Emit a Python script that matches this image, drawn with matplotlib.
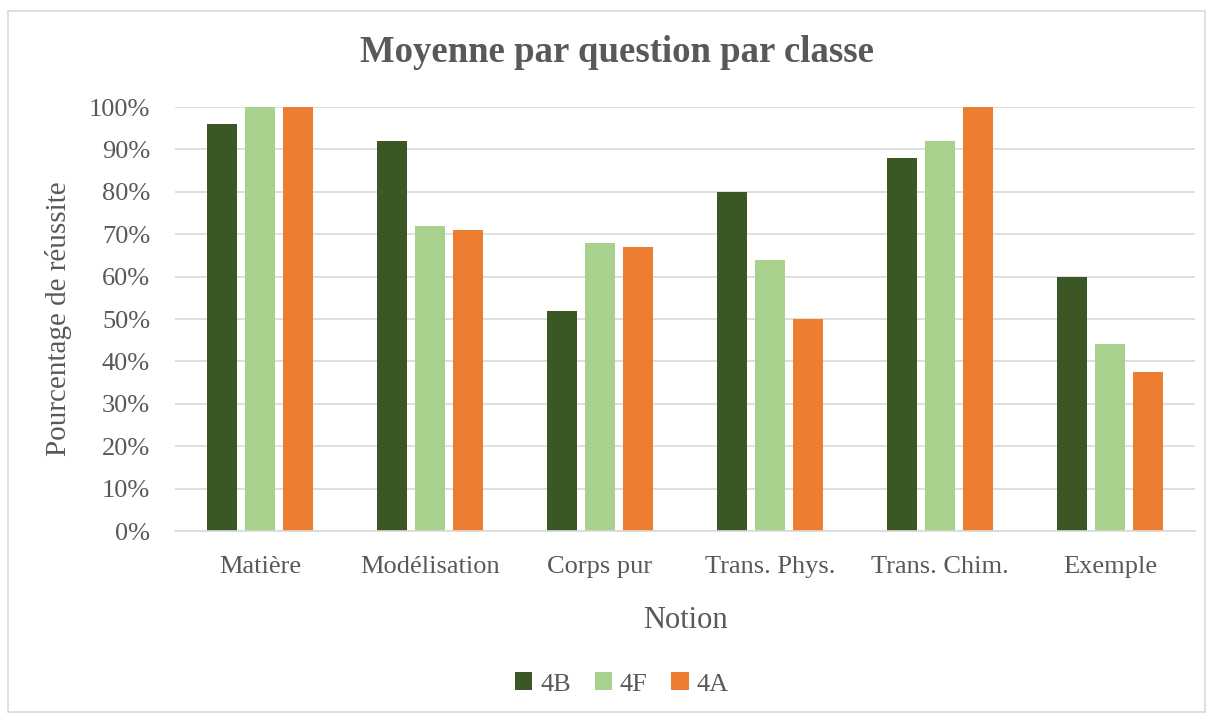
import numpy as np
import matplotlib.pyplot as plt
from matplotlib.patches import Rectangle

categories = ['Matière', 'Modélisation', 'Corps pur', 'Trans. Phys.', 'Trans. Chim.', 'Exemple']
series_names = ['4B', '4F', '4A']
val_4b = [96, 92, 52, 80, 88, 60]
val_4f = [100, 72, 68, 64, 92, 44]
val_4a = [100, 71, 67, 50, 100, 37.5]

colors = ['#3A5724', '#A9D18E', '#ED7D31']
txt = '#595959'
grid = '#D9D9D9'

plt.rcParams['font.family'] = ['Liberation Serif', 'DejaVu Serif']

fig = plt.figure(figsize=(12.13, 7.19), dpi=100)
fig.patches.append(Rectangle((8 / 1213, 1 - 712 / 719), 1197 / 1213, 701 / 719,
                             transform=fig.transFigure, fill=False,
                             edgecolor='#D9D9D9', linewidth=1.2))

ax = fig.add_axes([175 / 1213, 1 - 531 / 719, 1020 / 1213, 424 / 719])

x = np.arange(len(categories))
w = 0.178
offs = [-0.224, 0, 0.224]
for vals, c, o, name in zip([val_4b, val_4f, val_4a], colors, offs, series_names):
    ax.bar(x + o, vals, w, color=c, label=name, zorder=3)

ax.set_ylim(0, 100)
ax.set_xlim(-0.5, len(categories) - 0.5)
ax.set_yticks(range(0, 101, 10))
ax.set_yticklabels([f'{v}%' for v in range(0, 101, 10)])
ax.set_xticks(x)
ax.set_xticklabels(categories)
ax.yaxis.grid(True, color=grid, linewidth=1.2, zorder=0)
for s in ['top', 'right', 'left']:
    ax.spines[s].set_visible(False)
ax.spines['bottom'].set_color(grid)
ax.spines['bottom'].set_linewidth(1.2)
ax.spines['bottom'].set_zorder(4)
ax.tick_params(axis='both', length=0, labelsize=19, colors=txt)
ax.tick_params(axis='x', pad=18)
ax.tick_params(axis='y', pad=18)

ax.set_xlabel('Notion', fontsize=22, color=txt, labelpad=20)
ax.set_ylabel('Pourcentage de réussite', fontsize=21, color=txt, labelpad=12)
fig.text(617 / 1213, 1 - 53 / 719, 'Moyenne par question par classe', ha='center', va='center',
         fontsize=26.5, fontweight='bold', color=txt)

leg = fig.legend(loc='center', bbox_to_anchor=(622 / 1213, 1 - 684 / 719), ncol=3, frameon=False,
                 fontsize=19, handlelength=0.65, handleheight=0.65, handletextpad=0.3, columnspacing=0.9)
for t in leg.get_texts():
    t.set_color(txt)

fig.savefig('out.png', dpi=100)
